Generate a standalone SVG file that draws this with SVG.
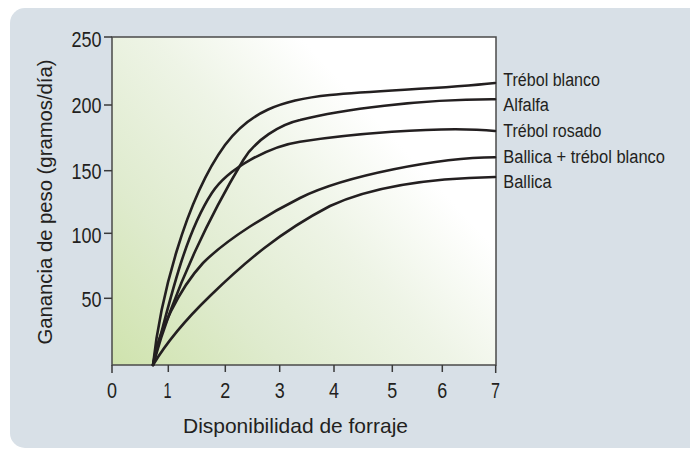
<svg xmlns="http://www.w3.org/2000/svg" width="690" height="449" viewBox="0 0 690 449">
<style>
.t{font-family:"Liberation Sans",Arial,sans-serif;fill:#231f20}
.ty{font-size:22px;text-anchor:end}
.tx{font-size:22px;text-anchor:middle}
.lab{font-size:18px}
.ttl{font-size:21px;text-anchor:middle}
.crv{fill:none;stroke:#231f20;stroke-width:2.6;stroke-linecap:round;stroke-linejoin:round}
.tick{stroke:#3a3a3a;stroke-width:1.5}
</style>
<defs>
<linearGradient id="bg" gradientUnits="userSpaceOnUse" x1="112" y1="365" x2="420" y2="80">
<stop offset="0" stop-color="#cfe3ad"/>
<stop offset="0.3" stop-color="#dfebce"/>
<stop offset="0.6" stop-color="#eef4e6"/>
<stop offset="0.86" stop-color="#ffffff"/>
<stop offset="1" stop-color="#ffffff"/>
</linearGradient>
</defs>
<rect x="10" y="8" width="700" height="440" rx="15" fill="#d8e0e7"/>
<g id="plot">
<rect x="112" y="37" width="384" height="328" fill="url(#bg)" stroke="#4a4a4a" stroke-width="1.5"/>
</g>
<g id="yaxis">
<line class="tick" x1="104" y1="37" x2="112" y2="37"/>
<line class="tick" x1="104" y1="105" x2="112" y2="105"/>
<line class="tick" x1="104" y1="170.7" x2="112" y2="170.7"/>
<line class="tick" x1="104" y1="233.3" x2="112" y2="233.3"/>
<line class="tick" x1="104" y1="298.3" x2="112" y2="298.3"/>
<text class="t ty" x="101.5" y="46.5" textLength="30" lengthAdjust="spacingAndGlyphs">250</text>
<text class="t ty" x="101.5" y="113.3" textLength="30" lengthAdjust="spacingAndGlyphs">200</text>
<text class="t ty" x="101.5" y="179.2" textLength="30" lengthAdjust="spacingAndGlyphs">150</text>
<text class="t ty" x="101.5" y="243" textLength="30" lengthAdjust="spacingAndGlyphs">100</text>
<text class="t ty" x="101.5" y="307.2" textLength="20" lengthAdjust="spacingAndGlyphs">50</text>
<text class="t ttl" transform="translate(52,202) rotate(-90)" textLength="285" lengthAdjust="spacingAndGlyphs">Ganancia de peso (gramos/día)</text>
</g>
<g id="xaxis">
<line class="tick" x1="112" y1="365" x2="112" y2="373"/>
<line class="tick" x1="168.3" y1="365" x2="168.3" y2="372"/>
<line class="tick" x1="225.3" y1="365" x2="225.3" y2="372"/>
<line class="tick" x1="279.7" y1="365" x2="279.7" y2="372"/>
<line class="tick" x1="334" y1="365" x2="334" y2="372"/>
<line class="tick" x1="392.3" y1="365" x2="392.3" y2="372"/>
<line class="tick" x1="442.3" y1="365" x2="442.3" y2="372"/>
<line class="tick" x1="495.7" y1="365" x2="495.7" y2="373"/>
<text class="t tx" x="112" y="397.5" textLength="10" lengthAdjust="spacingAndGlyphs">0</text>
<text class="t tx" x="167.5" y="397.5" textLength="8" lengthAdjust="spacingAndGlyphs">1</text>
<text class="t tx" x="225.3" y="397.5" textLength="10" lengthAdjust="spacingAndGlyphs">2</text>
<text class="t tx" x="279.7" y="397.5" textLength="10" lengthAdjust="spacingAndGlyphs">3</text>
<text class="t tx" x="334" y="397.5" textLength="10" lengthAdjust="spacingAndGlyphs">4</text>
<text class="t tx" x="392.3" y="397.5" textLength="10" lengthAdjust="spacingAndGlyphs">5</text>
<text class="t tx" x="442.3" y="397.5" textLength="10" lengthAdjust="spacingAndGlyphs">6</text>
<text class="t tx" x="495.5" y="397.5" textLength="9" lengthAdjust="spacingAndGlyphs">7</text>
<text class="t ttl" x="295.5" y="433" textLength="225" lengthAdjust="spacingAndGlyphs">Disponibilidad de forraje</text>
</g>
<g id="connectors">
<path id="c-trebol-blanco" class="crv" d="M153,365 C160,300 185,200 225,145 C250,112 280,100 330,95 C380,90 440,89 495,83"/>
<path id="c-alfalfa" class="crv" d="M153,365 C175,285 213.3,210 243.3,160 C255.3,140 280,124.4 300,120 C340,110 420,99 495,99.3"/>
<path id="c-trebol-rosado" class="crv" d="M153,365 C171,295 185.7,233.3 211.7,193.3 C228,168 270,146.2 300,141.7 C340,135.5 440,125 495,131"/>
<path id="c-ballica-trebol" class="crv" d="M153,365 C157,333 180,288 203,263 C228,238 270,213 300,198 C345,175.5 440,157.5 495,157.3"/>
<path id="c-ballica" class="crv" d="M153,365 C165,345 180,325 210,296 C245,262 280,232 330,206 C375,185 440,178 495,177"/>
</g>
<g id="labels">
<g id="n-trebol-blanco"><text class="t lab" x="503.3" y="86" textLength="96.7" lengthAdjust="spacingAndGlyphs">Trébol blanco</text></g>
<g id="n-alfalfa"><text class="t lab" x="503.3" y="110.7" textLength="45.7" lengthAdjust="spacingAndGlyphs">Alfalfa</text></g>
<g id="n-trebol-rosado"><text class="t lab" x="503.3" y="136.7" textLength="98" lengthAdjust="spacingAndGlyphs">Trébol rosado</text></g>
<g id="n-ballica-trebol"><text class="t lab" x="503.3" y="162.7" textLength="161.7" lengthAdjust="spacingAndGlyphs">Ballica + trébol blanco</text></g>
<g id="n-ballica"><text class="t lab" x="503.3" y="188.3" textLength="48.3" lengthAdjust="spacingAndGlyphs">Ballica</text></g>
</g>
</svg>
